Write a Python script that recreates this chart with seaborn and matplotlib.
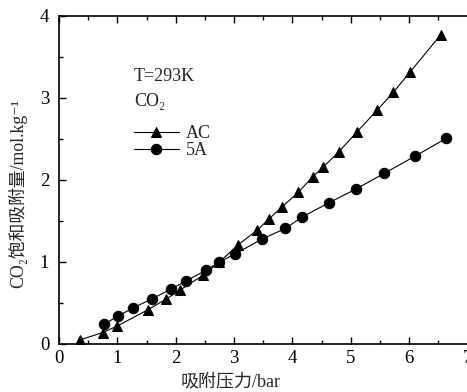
import matplotlib
matplotlib.use("Agg")
import matplotlib.pyplot as plt
from matplotlib.ticker import MultipleLocator
import seaborn as sns
import pandas as pd

# CO2 adsorption isotherms at 293 K
ac_pressure = [0.36, 0.75, 1.00, 1.53, 1.84, 2.08, 2.47, 2.75, 3.07, 3.40, 3.59,
               3.82, 4.10, 4.35, 4.53, 4.79, 5.11, 5.45, 5.73, 6.02, 6.54]
ac_uptake = [0.05, 0.14, 0.22, 0.42, 0.55, 0.66, 0.84, 1.00, 1.21, 1.39, 1.52,
             1.67, 1.85, 2.04, 2.16, 2.34, 2.59, 2.85, 3.07, 3.32, 3.77]

a5_pressure = [0.77, 1.01, 1.27, 1.59, 1.92, 2.18, 2.52, 2.75, 3.02, 3.48, 3.88,
               4.17, 4.62, 5.09, 5.57, 6.10, 6.64]
a5_uptake = [0.24, 0.34, 0.44, 0.55, 0.67, 0.77, 0.90, 1.00, 1.10, 1.28, 1.41,
             1.55, 1.72, 1.89, 2.08, 2.29, 2.51]

x_ticks = [0, 1, 2, 3, 4, 5, 6, 7]
y_ticks = [0, 1, 2, 3, 4]

sns.set_theme(style="ticks")
FAM = ["Liberation Serif", "Noto Sans CJK SC", "DejaVu Serif"]
plt.rcParams["font.family"] = FAM

fig = plt.figure(figsize=(4.67, 3.92), dpi=100)
W, H = 467, 392
x0, x1 = 59, 467.5
y0, y1 = 344, 16
ax = fig.add_axes([x0 / W, (H - y0) / H, (x1 - x0) / W, (y0 - y1) / H])

df_ac = pd.DataFrame({"p": ac_pressure, "q": ac_uptake})
df_5a = pd.DataFrame({"p": a5_pressure, "q": a5_uptake})

sns.lineplot(data=df_ac, x="p", y="q", ax=ax, color="black", lw=0.8,
             marker="^", markersize=7.5, markeredgecolor="black",
             sort=False, label="AC")
sns.lineplot(data=df_5a, x="p", y="q", ax=ax, color="black", lw=0.8,
             marker="o", markersize=7.5, markeredgecolor="black",
             sort=False, label="5A")

ax.set_xlim(0, 7)
ax.set_ylim(0, 4)
ax.set_xticks(x_ticks)
ax.set_yticks(y_ticks)
ax.xaxis.set_minor_locator(MultipleLocator(0.5))
ax.yaxis.set_minor_locator(MultipleLocator(0.5))
ax.tick_params(which="both", direction="in", top=True, right=False,
               width=1.0, colors="black", labelsize=13.5)
ax.tick_params(which="major", length=5)
ax.tick_params(which="minor", length=3)
ax.tick_params(axis="x", pad=4)
ax.tick_params(axis="y", pad=7)
for lab in ax.get_xticklabels() + ax.get_yticklabels():
    lab.set_family(FAM)

for side in ("left", "bottom", "top"):
    ax.spines[side].set_visible(True)
    ax.spines[side].set_linewidth(1.2)
    ax.spines[side].set_color("black")
ax.spines["right"].set_visible(False)

ax.set_xlabel("吸附压力/bar", fontsize=13, family=FAM)
ax.xaxis.set_label_coords(0.42, -0.092)
ax.set_ylabel("CO₂饱和吸附量/mol.kg⁻¹", fontsize=12.8, family=FAM)
ax.yaxis.set_label_coords(-0.078, 0.46)

ax.text(0.183, 0.817, "T=293K", transform=ax.transAxes, fontsize=13,
        family=FAM, va="center", ha="left")
ax.text(0.183, 0.738, "CO₂", transform=ax.transAxes, fontsize=13,
        family=FAM, va="center", ha="left")

leg = ax.legend(loc="upper left", bbox_to_anchor=(0.165, 0.69), frameon=False,
                handlelength=2.5, handletextpad=0.4, labelspacing=0.02,
                prop={"family": FAM, "size": 13}, borderaxespad=0)

fig.savefig("out.png", dpi=100)
